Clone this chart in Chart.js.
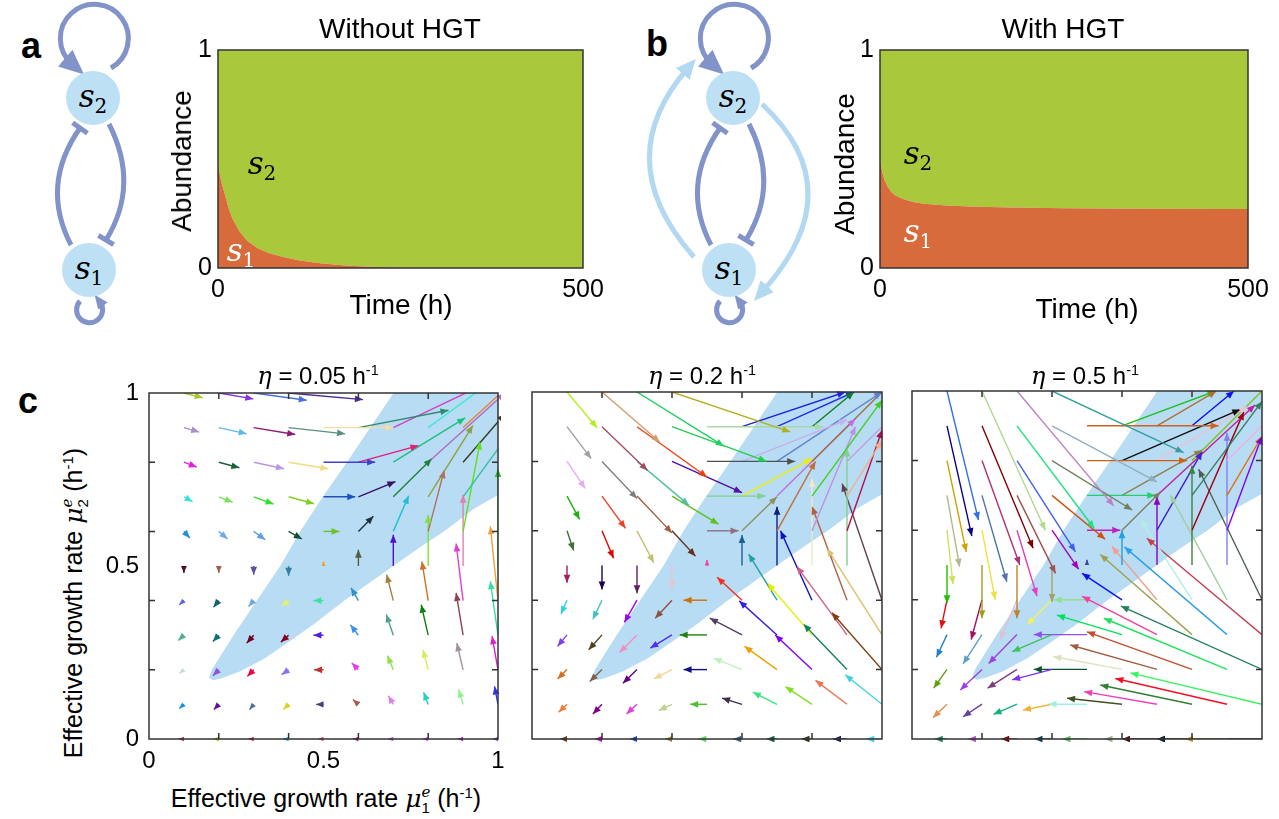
<!DOCTYPE html>
<html>
<head>
<meta charset="utf-8">
<script src="https://cdn.jsdelivr.net/npm/chart.js@4.4.1/dist/chart.umd.min.js"></script>
<style>
  body { margin:0; width:1279px; height:819px; background:#fff; position:relative; overflow:hidden;
         font-family:"Liberation Sans", Arial, sans-serif; color:#000; }
  canvas { position:absolute; }
  .t { position:absolute; transform:translate(-50%,-50%); white-space:nowrap; line-height:1; }
  .rot { transform:translate(-50%,-50%) rotate(-90deg); }
  .lt { font-weight:bold; font-size:36px; }
  .ttl { font-size:28px; }
  .ct { font-size:24px; }
  .ax { font-size:25px; }
  .s { font-family:"DejaVu Serif", serif; font-size:31px; }
  .s i { font-style:italic; }
  .s sub { font-size:20px; vertical-align:-0.3em; line-height:0; }
  .w { color:#fff; }
  sup { font-size:0.6em; vertical-align:0.6em; line-height:0; }
  .mu { font-family:"DejaVu Serif", serif; font-style:italic; }
  .st { display:inline-flex; flex-direction:column; font-size:0.6em; line-height:1; vertical-align:middle; }
</style>
</head>
<body>

<svg width="1279" height="340" style="position:absolute;left:0;top:0">
  <defs>
    <marker id="hd" markerUnits="userSpaceOnUse" markerWidth="28" markerHeight="24" refX="9" refY="11" orient="auto">
      <path d="M0,0 L25,11 L0,22 z" fill="#8193c8"/>
    </marker>
    <marker id="hs" markerUnits="userSpaceOnUse" markerWidth="16" markerHeight="14" refX="5" refY="6" orient="auto">
      <path d="M0,0 L14,6 L0,12 z" fill="#8193c8"/>
    </marker>
    <marker id="hl" markerUnits="userSpaceOnUse" markerWidth="24" markerHeight="20" refX="8" refY="9" orient="auto">
      <path d="M0,0 L20,9 L0,18 z" fill="#b3d9f2"/>
    </marker>
  </defs>
  <g fill="none" stroke="#8193c8" stroke-width="5">
    <path d="M111 68 A34 34 0 1 0 72 64" marker-end="url(#hd)"/>
    <path d="M80 301 A13 13 0 1 0 100 302" marker-end="url(#hs)"/>
    <path d="M71 245 Q40 185 80 128"/>
    <path d="M72.6 122.8 L87.4 133.2"/>
    <path d="M109 124 Q140 185 106 240"/>
    <path d="M98.4 235.3 L113.6 244.7"/>
    <circle cx="93" cy="98" r="27" fill="#bde0f5" stroke="none"/>
    <circle cx="89" cy="270" r="27" fill="#bde0f5" stroke="none"/>
  </g>
  <g fill="none" stroke="#8193c8" stroke-width="5" transform="translate(640,0)">
    <path d="M111 68 A34 34 0 1 0 72 64" marker-end="url(#hd)"/>
    <path d="M80 301 A13 13 0 1 0 100 302" marker-end="url(#hs)"/>
    <path d="M71 245 Q40 185 80 128"/>
    <path d="M72.6 122.8 L87.4 133.2"/>
    <path d="M109 124 Q140 185 106 240"/>
    <path d="M98.4 235.3 L113.6 244.7"/>
    <circle cx="93" cy="98" r="27" fill="#bde0f5" stroke="none"/>
    <circle cx="89" cy="270" r="27" fill="#bde0f5" stroke="none"/>
  </g>
  <g fill="none" stroke="#b3d9f2" stroke-width="5">
    <path d="M694 257 Q608 160 688 68" marker-end="url(#hl)"/>
    <path d="M762 104 Q854 190 762 292" marker-end="url(#hl)"/>
  </g>
</svg>

<canvas id="ca" width="460" height="330" style="left:150px;top:0"></canvas>
<canvas id="cb" width="460" height="330" style="left:812px;top:0"></canvas>
<canvas id="c1" width="410" height="400" style="left:100px;top:380px"></canvas>
<canvas id="c2" width="372" height="380" style="left:520px;top:380px"></canvas>
<canvas id="c3" width="379" height="380" style="left:900px;top:380px"></canvas>

<div class="t lt" style="left:31px;top:46px">a</div>
<div class="t lt" style="left:657px;top:44px">b</div>
<div class="t lt" style="left:28px;top:401px">c</div>
<div class="t ttl" style="left:400px;top:29px">Without HGT</div>
<div class="t ttl" style="left:1063px;top:29px">With HGT</div>
<div class="t ttl rot" style="left:182px;top:161px">Abundance</div>
<div class="t ttl rot" style="left:845px;top:164px">Abundance</div>
<div class="t ttl" style="left:401px;top:305px">Time (h)</div>
<div class="t ttl" style="left:1087px;top:309px">Time (h)</div>

<div class="t s" style="left:262px;top:163px"><i>s</i><sub>2</sub></div>
<div class="t s w" style="left:241px;top:250px"><i>s</i><sub>1</sub></div>
<div class="t s" style="left:918px;top:153px"><i>s</i><sub>2</sub></div>
<div class="t s w" style="left:918px;top:231px"><i>s</i><sub>1</sub></div>
<div class="t s" style="left:93px;top:96px"><i>s</i><sub>2</sub></div>
<div class="t s" style="left:89px;top:268px"><i>s</i><sub>1</sub></div>
<div class="t s" style="left:733px;top:96px"><i>s</i><sub>2</sub></div>
<div class="t s" style="left:729px;top:268px"><i>s</i><sub>1</sub></div>

<div class="t ct" style="left:318px;top:376px"><span class="mu">η</span> = 0.05 h<sup>-1</sup></div>
<div class="t ct" style="left:702px;top:376px"><span class="mu">η</span> = 0.2 h<sup>-1</sup></div>
<div class="t ct" style="left:1085px;top:376px"><span class="mu">η</span> = 0.5 h<sup>-1</sup></div>
<div class="t ax rot" style="left:75px;top:603px">Effective growth rate <span class="mu">μ</span><span class="st"><span class="mu">e</span><span>2</span></span> (h<sup>-1</sup>)</div>
<div class="t ax" style="left:326px;top:800px">Effective growth rate <span class="mu">μ</span><span class="st"><span class="mu">e</span><span>1</span></span> (h<sup>-1</sup>)</div>

<script>
// ---- panels a/b : abundance over time ----
const timeA = [0, 5, 10, 15, 20, 30, 40, 55, 70, 90, 110, 140, 170, 200, 230, 260, 300, 400, 500];
const s1A = [0.47, 0.39, 0.33, 0.27, 0.225, 0.165, 0.125, 0.09, 0.068, 0.05, 0.036, 0.022, 0.013, 0.007, 0.003, 0.001, 0, 0, 0];
const s2A = [0.53, 0.61, 0.67, 0.73, 0.775, 0.835, 0.875, 0.91, 0.932, 0.95, 0.964, 0.978, 0.987, 0.993, 0.997, 0.999, 1, 1, 1];

const timeB = [0, 3, 6, 10, 15, 20, 30, 45, 60, 90, 130, 180, 250, 350, 500];
const s1B = [0.50, 0.44, 0.405, 0.375, 0.35, 0.335, 0.318, 0.303, 0.295, 0.287, 0.281, 0.277, 0.274, 0.272, 0.271];
const s2B = [0.50, 0.56, 0.595, 0.625, 0.65, 0.665, 0.682, 0.697, 0.705, 0.713, 0.719, 0.723, 0.726, 0.728, 0.729];

const timeTicks = [0, 500];
const abundTicks = [0, 1];

// ---- panel c : coexistence region + vector field ----
const rateTicks = [0, 0.5, 1];
const minorTicks = [0.2, 0.4, 0.6, 0.8];

const regionX = [0.172, 0.180, 0.242, 0.309, 0.376, 0.433, 0.498, 0.567, 0.634, 0.701, 1.0, 1.0, 0.93, 0.845, 0.77, 0.70, 0.63, 0.56, 0.47, 0.40, 0.33, 0.26, 0.21, 0.185, 0.172];
const regionY = [0.176, 0.2, 0.3, 0.4, 0.5, 0.6, 0.7, 0.8, 0.9, 1.0, 1.0, 0.705, 0.665, 0.60, 0.55, 0.50, 0.45, 0.40, 0.33, 0.28, 0.232, 0.195, 0.176, 0.170, 0.176];

// [tail x, tail y, head x, head y]
const vecC1 = [
  [0.1,1,0.154,0.986],[0.2,1,0.299,0.983],[0.3,1,0.452,0.979],[0.4,1,0.613,0.981],
  [0.1,0.9,0.144,0.887],[0.2,0.9,0.28,0.882],[0.3,0.9,0.419,0.88],[0.4,0.9,0.562,0.882],[0.5,0.9,0.70,0.90],[0.6,0.9,0.858,0.95],[0.7,0.9,0.97,1.03],[0.8,0.9,0.99,1.04],[0.9,0.9,1.03,1.02],
  [0.1,0.8,0.137,0.786],[0.2,0.8,0.259,0.784],[0.3,0.8,0.387,0.781],[0.4,0.8,0.514,0.781],[0.5,0.8,0.648,0.80],[0.6,0.8,0.772,0.848],[0.7,0.8,0.906,0.928],[0.8,0.8,1.02,1.0],[0.9,0.8,1.02,0.94],
  [0.1,0.7,0.125,0.686],[0.2,0.7,0.24,0.684],[0.3,0.7,0.357,0.679],[0.4,0.7,0.473,0.68],[0.5,0.7,0.591,0.70],[0.6,0.7,0.706,0.744],[0.7,0.7,0.81,0.81],[0.8,0.7,0.928,0.906],[0.9,0.7,1.03,0.88],
  [0.1,0.6,0.117,0.581],[0.2,0.6,0.225,0.578],[0.3,0.6,0.333,0.576],[0.4,0.6,0.438,0.578],[0.5,0.6,0.546,0.60],[0.6,0.6,0.643,0.644],[0.7,0.6,0.744,0.703],[0.8,0.6,0.846,0.777],[0.9,0.6,0.949,0.86],
  [0.1,0.5,0.1,0.48],[0.2,0.5,0.2,0.48],[0.3,0.5,0.3,0.475],[0.4,0.5,0.4,0.472],[0.5,0.5,0.5,0.513],[0.6,0.5,0.6,0.547],[0.7,0.5,0.7,0.59],[0.8,0.5,0.8,0.648],[0.9,0.5,0.9,0.706],[1.0,0.5,1.0,0.78],
  [0.1,0.4,0.087,0.388],[0.2,0.4,0.185,0.381],[0.3,0.4,0.285,0.383],[0.4,0.4,0.38,0.383],[0.5,0.4,0.471,0.40],[0.6,0.4,0.579,0.437],[0.7,0.4,0.681,0.475],[0.8,0.4,0.782,0.513],[0.9,0.4,0.88,0.565],[1.0,0.4,0.978,0.615],
  [0.1,0.3,0.084,0.285],[0.2,0.3,0.183,0.282],[0.3,0.3,0.28,0.277],[0.4,0.3,0.378,0.28],[0.5,0.3,0.471,0.30],[0.6,0.3,0.577,0.33],[0.7,0.3,0.68,0.36],[0.8,0.3,0.78,0.388],[0.9,0.3,0.88,0.422],[1.0,0.3,0.978,0.456],
  [0.1,0.2,0.087,0.19],[0.2,0.2,0.183,0.183],[0.3,0.2,0.282,0.181],[0.4,0.2,0.38,0.186],[0.5,0.2,0.473,0.20],[0.6,0.2,0.581,0.22],[0.7,0.2,0.683,0.241],[0.8,0.2,0.785,0.258],[0.9,0.2,0.882,0.277],[1.0,0.2,0.983,0.297],
  [0.1,0.1,0.087,0.088],[0.2,0.1,0.186,0.085],[0.3,0.1,0.288,0.085],[0.4,0.1,0.385,0.085],[0.5,0.1,0.479,0.10],[0.6,0.1,0.584,0.114],[0.7,0.1,0.686,0.125],[0.8,0.1,0.787,0.135],[0.9,0.1,0.887,0.143],[1.0,0.1,0.99,0.152],
  [0.1,0,0.085,0],[0.2,0,0.185,0],[0.3,0,0.285,0],[0.4,0,0.385,0],[0.5,0,0.485,0],[0.6,0,0.585,0],[0.7,0,0.685,0],[0.8,0,0.785,0],[0.9,0,0.885,0],[1.0,0,0.985,0]
];
const colC1 = [
  '#a8c820','#8a30e0','#4a70e0','#4b2a90',
  '#a890c8','#60b8f0','#8b1a70','#5a9080','#f5dca0','#2e8b6e','#d040c8','#40e8d8','#f08030',
  '#e020e0','#1a5e3a','#b898e0','#f0dc82','#4040c8','#e0207a','#20c080','#b070c0','#3a3a20',
  '#40e0e0','#80e060','#30e030','#80d020','#2050c0','#3a1060','#208040','#90a040','#30c0a0',
  '#2090e0','#70a8f0','#5aa0e8','#105030','#70c030','#203040','#20c0d0','#b07060','#60e020',
  '#501020','#a06050','#6050a0','#3080a0','#f0a020','#506040','#5010d0','#80e040','#e080b0','#30c030',
  '#6060e0','#106070','#70a8e0','#e0f070','#40e0a0','#3090c8','#a08040','#d07020','#e040d0','#f0a040',
  '#50b090','#107070','#700020','#800020','#5020e0','#4090f0','#50a090','#108010','#904050','#30e0a0',
  '#c0e0e0','#9050e0','#f00040','#9070f0','#c03030','#e040e0','#90e050','#d0f060','#a090a0','#e020d0',
  '#1090f0','#6010a0','#5070a0','#e0d020','#404080','#a06050','#e080f0','#20d0c0','#90f090','#3030f0',
  '#c02040','#a0c000','#c02040','#20a0d0','#f04080','#a00080','#a060f0','#c040f0','#a020a0','#8040e0'
];

const vecC2 = [
  [0.1,1,0.186,0.897],[0.2,1,0.365,0.856],[0.3,1,0.548,0.844],[0.4,1,0.738,0.885],
  [0.1,0.9,0.169,0.808],[0.2,0.9,0.33,0.774],[0.3,0.9,0.50,0.755],[0.4,0.9,0.67,0.80],[0.5,0.9,0.833,0.90],[0.6,0.9,0.895,1.0],[0.7,0.9,0.92,1.0],[0.8,0.9,0.92,1.0],
  [0.1,0.8,0.152,0.722],[0.2,0.8,0.30,0.693],[0.3,0.8,0.448,0.674],[0.4,0.8,0.60,0.71],[0.5,0.8,0.752,0.80],[0.6,0.8,0.90,0.92],[0.7,0.8,1.0,1.0],[0.8,0.8,1.05,1.05],[0.9,0.8,1.05,0.95],
  [0.1,0.7,0.136,0.633],[0.2,0.7,0.267,0.607],[0.3,0.7,0.40,0.594],[0.4,0.7,0.533,0.619],[0.5,0.7,0.667,0.70],[0.6,0.7,0.80,0.808],[0.7,0.7,0.924,0.923],[0.8,0.7,1.0,0.976],[0.9,0.7,1.0,0.86],
  [0.1,0.6,0.119,0.543],[0.2,0.6,0.233,0.521],[0.3,0.6,0.348,0.508],[0.4,0.6,0.467,0.527],[0.5,0.6,0.59,0.60],[0.6,0.6,0.70,0.698],[0.7,0.6,0.81,0.80],[0.8,0.6,0.924,0.90],[0.9,0.6,1.0,0.89],
  [0.1,0.5,0.1,0.45],[0.2,0.5,0.2,0.431],[0.3,0.5,0.3,0.42],[0.4,0.5,0.4,0.434],[0.5,0.5,0.5,0.516],[0.6,0.5,0.6,0.588],[0.7,0.5,0.7,0.669],[0.8,0.5,0.8,0.75],[0.9,0.5,0.9,0.837],
  [0.1,0.4,0.083,0.36],[0.2,0.4,0.174,0.345],[0.3,0.4,0.264,0.336],[0.4,0.4,0.352,0.348],[0.5,0.4,0.433,0.40],[0.6,0.4,0.529,0.466],[0.7,0.4,0.619,0.533],[0.8,0.4,0.71,0.60],[0.9,0.4,0.80,0.67],[1.0,0.4,0.886,0.736],
  [0.1,0.3,0.073,0.267],[0.2,0.3,0.162,0.257],[0.3,0.3,0.25,0.249],[0.4,0.3,0.338,0.262],[0.5,0.3,0.422,0.30],[0.6,0.3,0.508,0.348],[0.7,0.3,0.592,0.398],[0.8,0.3,0.673,0.449],[0.9,0.3,0.757,0.497],[1.0,0.3,0.843,0.549],
  [0.1,0.2,0.073,0.173],[0.2,0.2,0.165,0.166],[0.3,0.2,0.26,0.161],[0.4,0.2,0.348,0.173],[0.5,0.2,0.433,0.20],[0.6,0.2,0.519,0.233],[0.7,0.2,0.607,0.267],[0.8,0.2,0.695,0.30],[0.9,0.2,0.776,0.331],[1.0,0.2,0.857,0.364],
  [0.1,0.1,0.076,0.077],[0.2,0.1,0.174,0.072],[0.3,0.1,0.27,0.072],[0.4,0.1,0.362,0.082],[0.5,0.1,0.452,0.10],[0.6,0.1,0.543,0.118],[0.7,0.1,0.631,0.135],[0.8,0.1,0.724,0.151],[0.9,0.1,0.81,0.169],[1.0,0.1,0.895,0.185],
  [0.1,0,0.08,0],[0.2,0,0.18,0],[0.3,0,0.28,0],[0.4,0,0.38,0],[0.5,0,0.475,0],[0.6,0,0.575,0],[0.7,0,0.67,0],[0.8,0,0.77,0],[0.9,0,0.86,0],[1.0,0,0.955,0]
];
const colC2 = [
  '#b0f020','#d0a070','#20d060','#b0b020',
  '#a0a0a0','#a05060','#f04010','#20d050','#a8d8a8','#2020e0','#2030f0','#108020',
  '#e0b0f0','#808080','#50c0a0','#5010a0','#505050','#c8b0e8','#6080d0','#a07040','#c0a0e0',
  '#20b010','#f04020','#a06040','#60c020','#80d090','#f0f000','#c070e0','#40d020','#f0b090',
  '#407030','#e00000','#c0c070','#603020','#907080','#909060','#c07040','#c090e0','#b01050',
  '#a02060','#200050','#602060','#f0c0d0','#f040a0','#206090','#102080','#f0e8c8','#80d090',
  '#30d0f0','#40c0c0','#a000f0','#905040','#d07000','#f03020','#20a0a0','#1010c0','#b06040','#604050',
  '#8040f0','#504020','#f090c0','#5030f0','#208010','#504060','#3020e0','#e0f000','#d06080','#e0c070',
  '#d07020','#806050','#600080','#f0d8a0','#101080','#c0f0c0','#f0a000','#8000f0','#108060','#804010',
  '#f08040','#800080','#e040e0','#c0d090','#50c030','#403050','#40e080','#80e020','#f07050','#40d0e0',
  '#604020','#c000c0','#2040c0','#a08040','#60e060','#406080','#106040','#303020','#202060','#40d0f0'
];

const vecC3 = [
  [0.1,1,0.19,0.629],[0.2,1,0.381,0.60],[0.3,1,0.576,0.67],[0.4,1,0.776,0.823],
  [0.1,0.9,0.171,0.583],[0.2,0.9,0.346,0.548],[0.3,0.9,0.521,0.605],[0.4,0.9,0.70,0.739],[0.5,0.9,0.876,0.90],[0.6,0.9,0.867,1.0],[0.7,0.9,0.87,1.0],[0.8,0.9,0.92,1.0],
  [0.1,0.8,0.155,0.538],[0.2,0.8,0.308,0.50],[0.3,0.8,0.467,0.538],[0.4,0.8,0.629,0.658],[0.5,0.8,0.786,0.80],[0.6,0.8,0.938,0.947],[0.7,0.8,0.957,0.955],[0.8,0.8,1.05,1.05],[0.9,0.8,1.05,0.95],
  [0.1,0.7,0.136,0.495],[0.2,0.7,0.271,0.452],[0.3,0.7,0.41,0.476],[0.4,0.7,0.552,0.574],[0.5,0.7,0.695,0.70],[0.6,0.7,0.829,0.83],[0.7,0.7,0.98,0.96],[0.8,0.7,1.0,0.97],[0.9,0.7,1.0,0.87],
  [0.1,0.6,0.117,0.445],[0.2,0.6,0.238,0.40],[0.3,0.6,0.357,0.411],[0.4,0.6,0.476,0.488],[0.5,0.6,0.595,0.60],[0.6,0.6,0.71,0.71],[0.7,0.6,0.829,0.826],[0.8,0.6,0.948,0.94],[0.9,0.6,1.0,0.87],
  [0.1,0.5,0.1,0.39],[0.2,0.5,0.2,0.347],[0.3,0.5,0.3,0.347],[0.4,0.5,0.4,0.394],[0.5,0.5,0.5,0.515],[0.6,0.5,0.6,0.60],[0.7,0.5,0.7,0.696],[0.8,0.5,0.8,0.785],[0.9,0.5,0.9,0.88],
  [0.1,0.4,0.083,0.318],[0.2,0.4,0.169,0.286],[0.3,0.4,0.252,0.286],[0.4,0.4,0.329,0.328],[0.5,0.4,0.405,0.40],[0.6,0.4,0.486,0.476],[0.7,0.4,0.571,0.553],[0.8,0.4,0.654,0.63],[0.9,0.4,0.738,0.701],[1.0,0.4,0.819,0.775],
  [0.1,0.3,0.07,0.235],[0.2,0.3,0.146,0.216],[0.3,0.3,0.219,0.217],[0.4,0.3,0.286,0.251],[0.5,0.3,0.348,0.30],[0.6,0.3,0.414,0.356],[0.7,0.3,0.486,0.41],[0.8,0.3,0.538,0.53],[0.9,0.3,0.607,0.552],[1.0,0.3,0.671,0.577],
  [0.1,0.2,0.062,0.146],[0.2,0.2,0.138,0.141],[0.3,0.2,0.216,0.146],[0.4,0.2,0.286,0.17],[0.5,0.2,0.348,0.20],[0.6,0.2,0.403,0.237],[0.7,0.2,0.452,0.27],[0.8,0.2,0.50,0.308],[0.9,0.2,0.548,0.347],[1.0,0.2,0.597,0.382],
  [0.1,0.1,0.06,0.061],[0.2,0.1,0.146,0.064],[0.3,0.1,0.233,0.071],[0.4,0.1,0.317,0.083],[0.5,0.1,0.39,0.10],[0.6,0.1,0.443,0.117],[0.7,0.1,0.492,0.136],[0.8,0.1,0.538,0.155],[0.9,0.1,0.581,0.174],[1.0,0.1,0.624,0.19],
  [0.1,0,0.065,0],[0.2,0,0.16,0],[0.3,0,0.255,0],[0.4,0,0.35,0],[0.5,0,0.43,0],[0.6,0,0.55,0],[0.7,0,0.60,0],[0.8,0,0.70,0],[0.9,0,0.78,0],[1.0,0,0.70,0]
];
const colC3 = [
  '#3070e0','#b0d890','#c080c0','#30a0a0',
  '#100080','#800000','#20e080','#90b0c0','#d06020','#20c020','#b07030','#1010f0',
  '#d0a000','#b03070','#4060f0','#708060','#d06010','#101010','#f0c0d0','#80c020','#f0b0e0',
  '#b0b890','#5070b0','#a05050','#d05010','#20d070','#908050','#c020a0','#308060','#e07010',
  '#d0e060','#f0e040','#e040c0','#a000c0','#c020c0','#808060','#4020d0','#a00010','#8000f0',
  '#20c000','#a0a020','#c08030','#a0a070','#4040a0','#20a0e0','#9000c0','#408040','#8080f0',
  '#e01010','#a01060','#e0c0d0','#f0f060','#90e090','#1010f0','#f0a090','#b0f0e0','#a0d0a0','#506050',
  '#2080d0','#60a0c0','#a040e0','#40c060','#9050f0','#00e060','#f040a0','#a0a050','#30a0e0','#c04050',
  '#60a010','#a040e0','#804080','#8030f0','#105030','#e0e0c0','#a06040','#c05030','#20e060','#208060',
  '#e09050','#6040a0','#10b080','#f0b030','#a0f0e0','#405020','#f040b0','#308030','#f01020','#40f060',
  '#208060','#b060d0','#800000','#104050','#60c060','#a0b090','#401010','#806020','#c0a040','#102040'
];

Chart.defaults.font.family = '"Liberation Sans", Arial, sans-serif';
Chart.defaults.color = '#000';
Chart.defaults.plugins.legend.display = false;
Chart.defaults.plugins.tooltip.enabled = false;

// frame + inward ticks around plot area
const frame = {
  id: 'frame',
  afterDraw(chart, args, opts) {
    const {ctx, chartArea: a, scales} = chart;
    ctx.save();
    ctx.strokeStyle = opts.color;
    ctx.lineWidth = opts.width;
    ctx.strokeRect(a.left, a.top, a.right - a.left, a.bottom - a.top);
    if (opts.ticks) {
      ctx.beginPath();
      opts.ticks.forEach(v => {
        const px = scales.x.getPixelForValue(v), py = scales.y.getPixelForValue(v);
        ctx.moveTo(px, a.bottom); ctx.lineTo(px, a.bottom - 6);
        ctx.moveTo(px, a.top); ctx.lineTo(px, a.top + 6);
        ctx.moveTo(a.left, py); ctx.lineTo(a.left + 6, py);
        ctx.moveTo(a.right, py); ctx.lineTo(a.right - 6, py);
      });
      ctx.stroke();
    }
    ctx.restore();
  }
};

// arrow heads for the vector field
const arrowHeads = {
  id: 'arrowHeads',
  afterDatasetsDraw(chart) {
    const {ctx, chartArea: a, scales: {x, y}} = chart;
    ctx.save();
    ctx.beginPath();
    ctx.rect(a.left - 3, a.top - 3, a.right - a.left + 6, a.bottom - a.top + 6);
    ctx.clip();
    chart.data.datasets.forEach(ds => {
      if (!ds.arrow) return;
      const x0 = x.getPixelForValue(ds.data[0].x), y0 = y.getPixelForValue(ds.data[0].y);
      const x1 = x.getPixelForValue(ds.data[1].x), y1 = y.getPixelForValue(ds.data[1].y);
      const len = Math.hypot(x1 - x0, y1 - y0);
      if (len < 0.5) return;
      const ux = (x1 - x0) / len, uy = (y1 - y0) / len;
      const L = Math.min(8, len), W = L * 0.42;
      ctx.fillStyle = ds.borderColor;
      ctx.beginPath();
      ctx.moveTo(x1, y1);
      ctx.lineTo(x1 - ux * L - uy * W, y1 - uy * L + ux * W);
      ctx.lineTo(x1 - ux * L + uy * W, y1 - uy * L - ux * W);
      ctx.closePath();
      ctx.fill();
    });
    ctx.restore();
  }
};

// fixed axis box; label overhang handled by layout padding instead
const fixBox = size => s => {
  if (s.isHorizontal()) s.height = size; else s.width = size;
  s.paddingTop = 0; s.paddingBottom = 0; s.paddingLeft = 0; s.paddingRight = 0;
};

function areaChart(id, t, s1, s2, padRight) {
  new Chart(document.getElementById(id), {
    type: 'line',
    data: {
      datasets: [
        { data: t.map((v, i) => ({x: v, y: s1[i]})), fill: 'origin', backgroundColor: '#d86b3b', borderWidth: 0, pointRadius: 0 },
        { data: t.map((v, i) => ({x: v, y: s2[i]})), fill: '-1', backgroundColor: '#aac83c', borderWidth: 0, pointRadius: 0 }
      ]
    },
    options: {
      responsive: false, animation: false, events: [],
      layout: { padding: { top: 50, right: padRight, left: 0, bottom: 0 } },
      scales: {
        x: {
          type: 'linear', min: 0, max: 500,
          grid: { display: false, drawTicks: false }, border: { display: false },
          afterBuildTicks: s => { s.ticks = timeTicks.map(v => ({value: v})); },
          ticks: { font: { size: 25, lineHeight: 1 }, padding: 10, maxRotation: 0 },
          afterFit: fixBox(62)
        },
        y: {
          min: 0, max: 1, stacked: true,
          grid: { display: false, drawTicks: false }, border: { display: false },
          afterBuildTicks: s => { s.ticks = abundTicks.map(v => ({value: v})); },
          ticks: { font: { size: 25, lineHeight: 1 }, padding: 6 },
          afterFit: fixBox(68)
        }
      },
      plugins: { frame: { color: '#333', width: 1.5 } }
    },
    plugins: [frame]
  });
}

function quiver(id, vecs, cols, pad, labelled) {
  const datasets = [{
    data: regionX.map((v, i) => ({x: v, y: regionY[i]})),
    showLine: true, fill: 'shape', backgroundColor: '#b8dcf3', borderColor: 'rgba(0,0,0,0)',
    borderWidth: 0, pointRadius: 0, order: 2
  }];
  vecs.forEach((v, i) => datasets.push({
    data: [{x: v[0], y: v[1]}, {x: v[2], y: v[3]}],
    showLine: true, borderColor: cols[i], backgroundColor: cols[i], borderWidth: 1.4,
    pointRadius: 0, arrow: true, order: 1
  }));
  const axis = (size) => ({
    type: 'linear', min: 0, max: 1, display: labelled,
    grid: { display: false, drawTicks: false }, border: { display: false },
    afterBuildTicks: s => { s.ticks = rateTicks.map(v => ({value: v})); },
    ticks: { font: { size: 24, lineHeight: 1 }, padding: 10, maxRotation: 0, callback: v => String(v) },
    afterFit: labelled ? fixBox(size) : undefined
  });
  new Chart(document.getElementById(id), {
    type: 'scatter',
    data: { datasets },
    options: {
      responsive: false, animation: false, events: [],
      layout: { padding: pad },
      scales: { x: axis(41), y: axis(49) },
      plugins: { frame: { color: '#333', width: 1.5, ticks: minorTicks } }
    },
    plugins: [frame, arrowHeads]
  });
}

areaChart('ca', timeA, s1A, s2A, 27);
areaChart('cb', timeB, s1B, s2B, 24);
quiver('c1', vecC1, colC1, { top: 13, right: 12, left: 0, bottom: 0 }, true);
quiver('c2', vecC2, colC2, { top: 12, right: 10, left: 12, bottom: 21 }, false);
quiver('c3', vecC3, colC3, { top: 11, right: 17, left: 12, bottom: 21 }, false);
</script>
</body>
</html>
